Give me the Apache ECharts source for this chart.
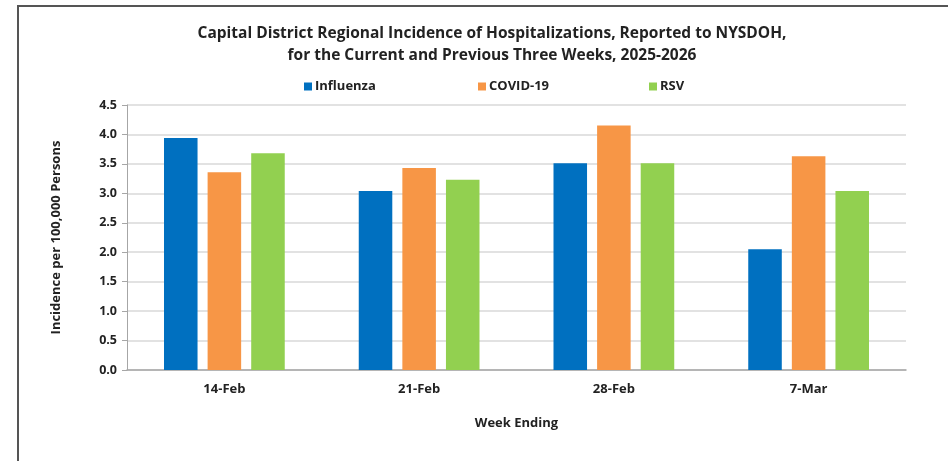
<!DOCTYPE html>
<html>
<head>
<meta charset="utf-8">
<script src="https://cdn.jsdelivr.net/npm/echarts@6/dist/echarts.min.js"></script>
<style>
  html, body { margin: 0; padding: 0; background: #fff; }
  #chart { width: 948px; height: 461px; }
</style>
</head>
<body>
<div id="chart"></div>
<script>
// week labels on the x axis
const weeks = ["14-Feb", "21-Feb", "28-Feb", "7-Mar"];
// incidence per 100,000
const influenza = [3.94, 3.04, 3.51, 2.05];
const covid = [3.36, 3.43, 4.15, 3.63];
const rsv = [3.68, 3.23, 3.51, 3.04];
const yTicks = [0, 0.5, 1, 1.5, 2, 2.5, 3, 3.5, 4, 4.5];

const font = "'Open Sans', 'Liberation Sans', sans-serif";
const colors = { Influenza: "#0070C0", "COVID-19": "#F79646", RSV: "#92D050" };

let chart = echarts.init(document.getElementById("chart"));

function legendAt(name, x) {
  return {
    data: [name],
    left: x,
    top: 75,
    icon: "rect",
    itemWidth: 8,
    itemHeight: 8,
    itemGap: 0,
    textStyle: { fontFamily: font, fontWeight: "bold", fontSize: 13, color: "#222", padding: [0, 0, 0, -2] },
    selectedMode: false
  };
}

function bar(name, data) {
  return {
    name: name,
    type: "bar",
    data: data,
    barGap: "30%",
    barCategoryGap: "38%",
    itemStyle: { color: colors[name] }
  };
}

chart.setOption({
  animation: false,
  title: {
    text: "Capital District Regional Incidence of Hospitalizations, Reported to NYSDOH,\nfor the Current and Previous Three Weeks, 2025-2026",
    left: 487,
    top: 18,
    textAlign: "center",
    textStyle: { fontFamily: font, fontWeight: "bold", fontSize: 15.5, color: "#222", lineHeight: 22 }
  },
  legend: [legendAt("Influenza", 299), legendAt("COVID-19", 473), legendAt("RSV", 644)],
  graphic: [{
    type: "polyline",
    shape: { points: [[18, 470], [18, 6], [960, 6]] },
    style: { stroke: "#555", lineWidth: 2, fill: null }
  }],
  grid: { left: 127, right: 42, top: 105, bottom: 91 },
  xAxis: {
    type: "category",
    data: weeks,
    name: "Week Ending",
    nameLocation: "middle",
    nameGap: 47,
    nameTextStyle: { fontFamily: font, fontWeight: "bold", fontSize: 13, color: "#222" },
    axisLine: { lineStyle: { color: "#a6a6a6", width: 1.5 } },
    axisTick: { show: false },
    axisLabel: { fontFamily: font, fontWeight: "bold", fontSize: 13, color: "#222", margin: 13 }
  },
  yAxis: {
    type: "value",
    min: yTicks[0],
    max: yTicks[yTicks.length - 1],
    interval: 0.5,
    name: "Incidence per 100,000 Persons",
    nameLocation: "middle",
    nameGap: 64,
    nameTextStyle: { fontFamily: font, fontWeight: "bold", fontSize: 13, color: "#222", padding: [0, 0, 0, 0] },
    axisLine: { show: true, lineStyle: { color: "#a6a6a6", width: 1 } },
    axisTick: { show: true, length: 5, lineStyle: { color: "#a6a6a6" } },
    axisLabel: { fontFamily: font, fontWeight: "bold", fontSize: 12.5, color: "#222", margin: 10,
      formatter: v => v.toFixed(1) },
    splitLine: { lineStyle: { color: "#d9d9d9", width: 1.5 } }
  },
  series: [bar("Influenza", influenza), bar("COVID-19", covid), bar("RSV", rsv)]
});
</script>
</body>
</html>
